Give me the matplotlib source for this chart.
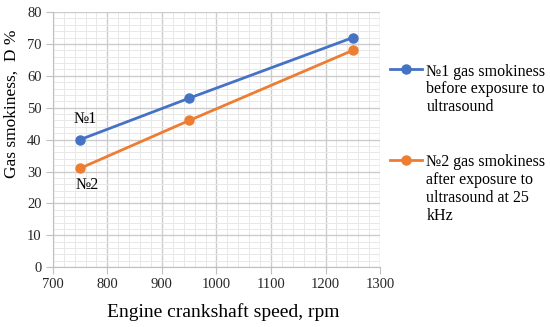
import matplotlib
matplotlib.use("Agg")
import matplotlib.pyplot as plt
from matplotlib.ticker import MultipleLocator

rpm = [750, 950, 1250]
before = [40, 53, 72]
after = [31, 46, 68]
labels = ["№1 gas smokiness\nbefore exposure to\nultrasound",
          "№2 gas smokiness\nafter exposure to\nultrasound at 25\nkHz"]

plt.rcParams['font.family'] = ['Liberation Serif', 'DejaVu Serif']

fig = plt.figure(figsize=(5.5, 3.27), dpi=100)
ax = fig.add_axes([0.096, 0.183, 0.595, 0.78])

blue = '#4472C4'
orange = '#ED7D31'
l1, = ax.plot(rpm, before, color=blue, lw=2, marker='o', ms=6.5, zorder=3)
l2, = ax.plot(rpm, after, color=orange, lw=2, marker='o', ms=6.5, zorder=3)

ax.set_xlim(700, 1300)
ax.set_ylim(0, 80)
ax.xaxis.set_major_locator(MultipleLocator(100))
ax.xaxis.set_minor_locator(MultipleLocator(20))
ax.yaxis.set_major_locator(MultipleLocator(10))
ax.yaxis.set_minor_locator(MultipleLocator(2))
ax.grid(which='major', color='#cccccc', lw=1.0)
ax.grid(which='minor', color='#e8e8e8', lw=0.7)
ax.set_axisbelow(True)
for s in ['top', 'right']:
    ax.spines[s].set_visible(False)
for s in ['left', 'bottom']:
    ax.spines[s].set_color('#bfbfbf')
ax.tick_params(which='major', length=5, pad=3, color='#bfbfbf', labelsize=10.5, labelcolor='#262626')
ax.tick_params(which='minor', length=0)

ax.set_xlabel('Engine crankshaft speed, rpm', fontsize=14, labelpad=8)
ax.xaxis.set_label_coords(0.52, -0.14)
ax.set_ylabel('Gas smokiness,  D %', fontsize=12.5)
ax.yaxis.set_label_coords(-0.1, 0.64)

ax.annotate('№1', (rpm[0], before[0]), xytext=(4, 9), textcoords='offset points',
            ha='center', va='bottom', fontsize=11.5)
ax.annotate('№2', (rpm[0], after[0]), xytext=(5, -6), textcoords='offset points',
            ha='center', va='top', fontsize=11.5)

leg = fig.legend([l1, l2], labels, loc='upper left', bbox_to_anchor=(0.697, 0.825),
                 frameon=False, fontsize=11.5, handlelength=2.0, handletextpad=0.3,
                 labelspacing=2.45, borderaxespad=0)
for t in leg.get_texts():
    t.set_linespacing(1.15)
for col in leg._legend_handle_box.get_children():
    for entry in col.get_children():
        entry.align = 'top'

fig.savefig('out.png', dpi=100)
